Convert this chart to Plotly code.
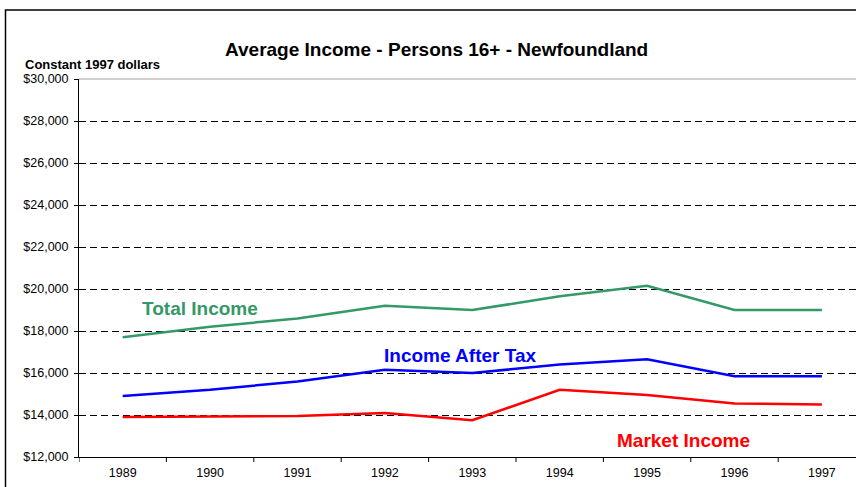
import plotly.graph_objects as go

years = ["1989", "1990", "1991", "1992", "1993", "1994", "1995", "1996", "1997"]
total_income = [17700, 18200, 18600, 19200, 19000, 19650, 20150, 19000, 19000]
after_tax = [14900, 15200, 15600, 16150, 16000, 16400, 16650, 15850, 15850]
market_income = [13900, 13920, 13950, 14100, 13750, 15200, 14950, 14550, 14500]
y_ticks = list(range(12000, 30001, 2000))
y_tick_labels = [f"${v:,}" for v in y_ticks]

W, H = 856, 487
L, R, T, B = 79, 0, 79, 30
pw, ph = W - L - R, H - T - B
band = 87.4

fig = go.Figure()
for name, vals, col in [("Total Income", total_income, "#339966"),
                        ("Income After Tax", after_tax, "#0000FF"),
                        ("Market Income", market_income, "#FF0000")]:
    fig.add_trace(go.Scatter(x=list(range(len(years))), y=vals, mode="lines",
                             name=name, line=dict(color=col, width=2.5)))

font = "Liberation Sans, Arial, sans-serif"
ann = [("Total Income", 0.884, 19095, "#339966"),
       ("Income After Tax", 3.854, 16810, "#0000FF"),
       ("Market Income", 6.422, 12776, "#FF0000")]
annotations = [dict(x=x, y=y, xref="x", yref="y", text=f"<b>{t}</b>", showarrow=False,
                    font=dict(family=font, size=19, color=c)) for t, x, y, c in ann]
annotations.append(dict(x=(436 - L) / pw, y=1 + (T - 37) / ph, xref="paper", yref="paper",
                        text="<b>Average Income - Persons 16+ - Newfoundland</b>",
                        showarrow=False, font=dict(family=font, size=19, color="black")))
annotations.append(dict(x=(23 - L) / pw, y=1 + (T - 55) / ph, xref="paper", yref="paper",
                        xanchor="left", text="<b>Constant 1997 dollars</b>",
                        showarrow=False, font=dict(family=font, size=13, color="black")))

shapes = [dict(type="rect", xref="paper", yref="paper",
               x0=(5.5 - L) / pw, x1=1.05, y0=-0.3, y1=1 + (T - 10) / ph,
               line=dict(color="black", width=1.5), fillcolor="rgba(0,0,0,0)", layer="below"),
          dict(type="line", xref="paper", yref="paper", x0=0, x1=1, y0=1, y1=1,
               line=dict(color="#A0A0A0", width=1), layer="below")]

fig.update_layout(
    width=W, height=H, margin=dict(l=L, r=R, t=T, b=B, autoexpand=False),
    paper_bgcolor="white", plot_bgcolor="white", showlegend=False,
    annotations=annotations, shapes=shapes,
    font=dict(family=font, size=12.5, color="black"),
    xaxis=dict(range=[-0.5, -0.5 + pw / band], tickmode="array",
               tickvals=list(range(len(years))), ticktext=years, showgrid=False,
               showline=True, linecolor="black", linewidth=1, zeroline=False,
               ticks="", tickfont=dict(size=12.5), automargin=False,
               ticklabelstandoff=4),
    yaxis=dict(range=[12000, 30000], tickmode="array", tickvals=y_ticks,
               ticktext=y_tick_labels, showgrid=True, gridcolor="black",
               griddash="7px,4px", gridwidth=1, showline=True, linecolor="black",
               linewidth=1, ticks="outside", ticklen=4, tickcolor="black",
               zeroline=False, tickfont=dict(size=12.5), automargin=False,
               ticklabelstandoff=3),
)
for i in range(len(years) + 1):
    fig.add_shape(type="line", xref="x", yref="paper", x0=i - 0.5, x1=i - 0.5,
                  y0=0, y1=-5 / ph, line=dict(color="black", width=1))

fig.write_html("out.html", config={"displayModeBar": False},
               post_script="document.body.style.margin='0';document.body.style.overflow='hidden';")
